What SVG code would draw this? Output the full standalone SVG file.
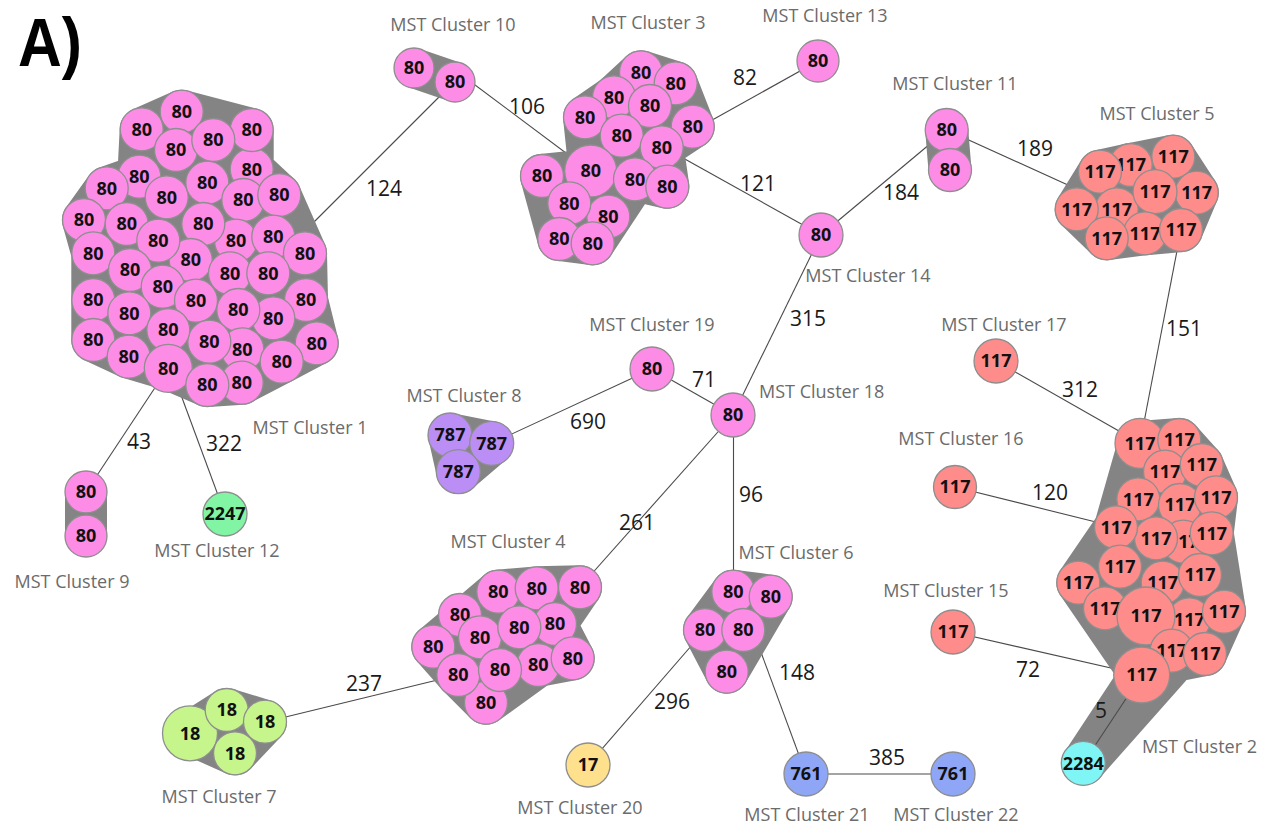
<svg xmlns="http://www.w3.org/2000/svg" width="1273" height="826" viewBox="0 0 1273 826">
<style>
.e{stroke:#4a4a4a;stroke-width:1.1;fill:none}
.h{fill:#848484;stroke:#848484;stroke-width:44;stroke-linejoin:round;stroke-linecap:round}
circle{stroke:#8e8e8e;stroke-width:1.3}
.pk{fill:#fd8ce6}
.sa{fill:#fd8c8a}
.t{font-family:"Open Sans","DejaVu Sans",sans-serif;font-weight:700;font-size:18px;text-anchor:middle;fill:#111}
.cl{font-family:"Open Sans","DejaVu Sans",sans-serif;font-size:18px;fill:#6b6b6b;text-anchor:middle}
.el{font-family:"Open Sans","DejaVu Sans",sans-serif;font-size:21px;fill:#1a1a1a;text-anchor:middle}
</style>
<rect width="1273" height="826" fill="#fff"/>
<text x="50" y="66" font-family="Liberation Sans, Arial, sans-serif" font-weight="700" font-size="68" textLength="64" lengthAdjust="spacingAndGlyphs" text-anchor="middle" fill="#000">A)</text>

<g id="connectors">
<line class="e" x1="290" y1="246" x2="455" y2="81"/>
<line class="e" x1="455" y1="70" x2="590" y2="171"/>
<line class="e" x1="680" y1="138" x2="818" y2="61"/>
<line class="e" x1="683" y1="158" x2="821" y2="235"/>
<line class="e" x1="821" y1="235" x2="946.7" y2="130"/>
<line class="e" x1="946.7" y1="130" x2="1076.7" y2="189"/>
<line class="e" x1="1181" y1="230" x2="1140" y2="443"/>
<line class="e" x1="821" y1="235" x2="733" y2="415"/>
<line class="e" x1="652" y1="369" x2="733" y2="415"/>
<line class="e" x1="491.7" y1="443.3" x2="652" y2="369"/>
<line class="e" x1="733" y1="415" x2="580" y2="587"/>
<line class="e" x1="733.5" y1="415" x2="733.5" y2="592"/>
<line class="e" x1="458" y1="675" x2="265" y2="722"/>
<line class="e" x1="705" y1="630" x2="588" y2="765"/>
<line class="e" x1="752" y1="628" x2="806" y2="774"/>
<line class="e" x1="806" y1="774" x2="953" y2="774"/>
<line class="e" x1="996" y1="361" x2="1140" y2="443"/>
<line class="e" x1="955" y1="487" x2="1116" y2="527"/>
<line class="e" x1="953" y1="632" x2="1141.7" y2="675"/>
<line class="e" x1="168" y1="368" x2="86" y2="492"/>
<line class="e" x1="171" y1="368" x2="225" y2="514"/>
</g>

<g id="edge-labels">
<text class="el" x="384" y="196">124</text>
<text class="el" x="527" y="114">106</text>
<text class="el" x="745" y="85">82</text>
<text class="el" x="758" y="191">121</text>
<text class="el" x="901" y="200">184</text>
<text class="el" x="1035" y="156">189</text>
<text class="el" x="1184" y="336">151</text>
<text class="el" x="808" y="326">315</text>
<text class="el" x="704" y="387">71</text>
<text class="el" x="588" y="429">690</text>
<text class="el" x="637" y="530">261</text>
<text class="el" x="751" y="502">96</text>
<text class="el" x="364" y="691">237</text>
<text class="el" x="672" y="709">296</text>
<text class="el" x="797" y="680">148</text>
<text class="el" x="887" y="765">385</text>
<text class="el" x="1080" y="397">312</text>
<text class="el" x="1050" y="500">120</text>
<text class="el" x="1028" y="677">72</text>
<text class="el" x="139" y="449">43</text>
<text class="el" x="224" y="451">322</text>
</g>

<g id="cluster1">
<path class="h" d="M181.7,111.7 L251.7,130 L251.7,169.3 L279.3,195 L305,253.3 L306,300 L316.7,343.3 L281.7,361.7 L241.7,382.7 L207.3,385 L168.3,368.3 L128.7,356.7 L93.3,340 L93.3,253.3 L84,220 L106.7,188.3 L139.3,176.7 L141.7,129.3 Z"/>
<circle class="pk" cx="181.7" cy="111.7" r="21.5"/><text class="t" x="181.7" y="118">80</text>
<circle class="pk" cx="141.7" cy="129.3" r="21.5"/><text class="t" x="141.7" y="135.6">80</text>
<circle class="pk" cx="251.7" cy="169.3" r="21.5"/><text class="t" x="251.7" y="175.6">80</text>
<circle class="pk" cx="251.7" cy="130" r="21.5"/><text class="t" x="251.7" y="136.3">80</text>
<circle class="pk" cx="176" cy="150" r="21.5"/><text class="t" x="176" y="156.3">80</text>
<circle class="pk" cx="213.3" cy="140" r="21.5"/><text class="t" x="213.3" y="146.3">80</text>
<circle class="pk" cx="139.3" cy="176.7" r="21.5"/><text class="t" x="139.3" y="183">80</text>
<circle class="pk" cx="106.7" cy="188.3" r="21.5"/><text class="t" x="106.7" y="194.6">80</text>
<circle class="pk" cx="166.7" cy="197.3" r="21.5"/><text class="t" x="166.7" y="203.6">80</text>
<circle class="pk" cx="207.3" cy="182.7" r="21.5"/><text class="t" x="207.3" y="189">80</text>
<circle class="pk" cx="243.3" cy="200" r="21.5"/><text class="t" x="243.3" y="206.3">80</text>
<circle class="pk" cx="279.3" cy="195" r="21.5"/><text class="t" x="279.3" y="201.3">80</text>
<circle class="pk" cx="84" cy="220" r="21.5"/><text class="t" x="84" y="226.3">80</text>
<circle class="pk" cx="126.7" cy="224" r="21.5"/><text class="t" x="126.7" y="230.3">80</text>
<circle class="pk" cx="236" cy="240.7" r="21.5"/><text class="t" x="236" y="247">80</text>
<circle class="pk" cx="273.3" cy="236.7" r="21.5"/><text class="t" x="273.3" y="243">80</text>
<circle class="pk" cx="203.3" cy="224" r="21.5"/><text class="t" x="203.3" y="230.3">80</text>
<circle class="pk" cx="93.3" cy="253.3" r="21.5"/><text class="t" x="93.3" y="259.6">80</text>
<circle class="pk" cx="190.7" cy="260" r="21.5"/><text class="t" x="190.7" y="266.3">80</text>
<circle class="pk" cx="158.3" cy="240.7" r="21.5"/><text class="t" x="158.3" y="247">80</text>
<circle class="pk" cx="305" cy="253.3" r="21.5"/><text class="t" x="305" y="259.6">80</text>
<circle class="pk" cx="130" cy="270" r="21.5"/><text class="t" x="130" y="276.3">80</text>
<circle class="pk" cx="230" cy="273.3" r="21.5"/><text class="t" x="230" y="279.6">80</text>
<circle class="pk" cx="268.3" cy="273.3" r="21.5"/><text class="t" x="268.3" y="279.6">80</text>
<circle class="pk" cx="162.7" cy="286.7" r="21.5"/><text class="t" x="162.7" y="293">80</text>
<circle class="pk" cx="93.3" cy="300" r="21.5"/><text class="t" x="93.3" y="306.3">80</text>
<circle class="pk" cx="196" cy="300.7" r="21.5"/><text class="t" x="196" y="307">80</text>
<circle class="pk" cx="306" cy="300" r="21.5"/><text class="t" x="306" y="306.3">80</text>
<circle class="pk" cx="129.3" cy="313.3" r="21.5"/><text class="t" x="129.3" y="319.6">80</text>
<circle class="pk" cx="273.3" cy="318.3" r="21.5"/><text class="t" x="273.3" y="324.6">80</text>
<circle class="pk" cx="238.3" cy="310" r="21.5"/><text class="t" x="238.3" y="316.3">80</text>
<circle class="pk" cx="93.3" cy="340" r="21.5"/><text class="t" x="93.3" y="346.3">80</text>
<circle class="pk" cx="242.3" cy="349.3" r="21.5"/><text class="t" x="242.3" y="355.6">80</text>
<circle class="pk" cx="209.3" cy="341.7" r="21.5"/><text class="t" x="209.3" y="348">80</text>
<circle class="pk" cx="168.3" cy="330" r="21.5"/><text class="t" x="168.3" y="336.3">80</text>
<circle class="pk" cx="316.7" cy="343.3" r="21.5"/><text class="t" x="316.7" y="349.6">80</text>
<circle class="pk" cx="128.7" cy="356.7" r="21.5"/><text class="t" x="128.7" y="363">80</text>
<circle class="pk" cx="281.7" cy="361.7" r="21.5"/><text class="t" x="281.7" y="368">80</text>
<circle class="pk" cx="168.3" cy="368.3" r="24"/><text class="t" x="168.3" y="374.6">80</text>
<circle class="pk" cx="241.7" cy="382.7" r="21.5"/><text class="t" x="241.7" y="389">80</text>
<circle class="pk" cx="207.3" cy="385" r="21.5"/><text class="t" x="207.3" y="391.3">80</text>
<text class="cl" x="310" y="434">MST Cluster 1</text>
</g>

<g id="cluster9">
<line class="h" x1="86" y1="492" x2="86" y2="536" style="stroke-width:42"/>
<circle class="pk" cx="86" cy="492" r="21"/><text class="t" x="86" y="498.3">80</text>
<circle class="pk" cx="86" cy="536" r="21"/><text class="t" x="86" y="542.3">80</text>
<text class="cl" x="72" y="588">MST Cluster 9</text>
</g>

<g id="cluster12">
<circle cx="225" cy="514" r="22" fill="#82f5a4"/><text class="t" x="225" y="520.3">2247</text>
<text class="cl" x="217" y="557">MST Cluster 12</text>
</g>

<g id="cluster10">
<line class="h" x1="414" y1="68" x2="455" y2="82" style="stroke-width:40"/>
<circle class="pk" cx="414" cy="68" r="20"/><text class="t" x="414" y="74.3">80</text>
<circle class="pk" cx="455" cy="82" r="20"/><text class="t" x="455" y="88.3">80</text>
<text class="cl" x="453" y="31">MST Cluster 10</text>
</g>

<g id="cluster3">
<path class="h" d="M641,72.3 L675.7,83.3 L692.7,126.7 L661.7,147.3 L667.3,186.7 L635,179.3 L592.7,243.3 L559.3,239 L542,176 L590.7,171 L585,117.3 L614,97.3 Z"/>
<circle class="pk" cx="641" cy="72.3" r="21.5"/><text class="t" x="641" y="78.6">80</text>
<circle class="pk" cx="675.7" cy="83.3" r="21.5"/><text class="t" x="675.7" y="89.6">80</text>
<circle class="pk" cx="614" cy="97.3" r="21.5"/><text class="t" x="614" y="103.6">80</text>
<circle class="pk" cx="650" cy="106" r="21.5"/><text class="t" x="650" y="112.3">80</text>
<circle class="pk" cx="585" cy="117.3" r="21.5"/><text class="t" x="585" y="123.6">80</text>
<circle class="pk" cx="692.7" cy="126.7" r="21.5"/><text class="t" x="692.7" y="133">80</text>
<circle class="pk" cx="621.7" cy="135.7" r="21.5"/><text class="t" x="621.7" y="142">80</text>
<circle class="pk" cx="661.7" cy="147.3" r="21.5"/><text class="t" x="661.7" y="153.6">80</text>
<circle class="pk" cx="608.3" cy="216.7" r="21.5"/><text class="t" x="608.3" y="223">80</text>
<circle class="pk" cx="590.7" cy="171" r="26"/><text class="t" x="590.7" y="177.3">80</text>
<circle class="pk" cx="542" cy="176" r="21.5"/><text class="t" x="542" y="182.3">80</text>
<circle class="pk" cx="635" cy="179.3" r="21.5"/><text class="t" x="635" y="185.6">80</text>
<circle class="pk" cx="667.3" cy="186.7" r="21.5"/><text class="t" x="667.3" y="193">80</text>
<circle class="pk" cx="569.3" cy="203.3" r="21.5"/><text class="t" x="569.3" y="209.6">80</text>
<circle class="pk" cx="559.3" cy="239" r="21.5"/><text class="t" x="559.3" y="245.3">80</text>
<circle class="pk" cx="592.7" cy="243.3" r="21.5"/><text class="t" x="592.7" y="249.6">80</text>
<text class="cl" x="648" y="29">MST Cluster 3</text>
</g>

<g id="cluster13">
<circle class="pk" cx="818" cy="61" r="21"/><text class="t" x="818" y="67.3">80</text>
<text class="cl" x="825" y="22">MST Cluster 13</text>
</g>

<g id="cluster11">
<line class="h" x1="946.7" y1="130" x2="950" y2="170" style="stroke-width:43"/>
<circle class="pk" cx="946.7" cy="130" r="21.5"/><text class="t" x="946.7" y="136.3">80</text>
<circle class="pk" cx="950" cy="170" r="21.5"/><text class="t" x="950" y="176.3">80</text>
<text class="cl" x="955" y="90">MST Cluster 11</text>
</g>

<g id="cluster14">
<circle class="pk" cx="821" cy="235" r="22"/><text class="t" x="821" y="241.3">80</text>
<text class="cl" x="868" y="282">MST Cluster 14</text>
</g>

<g id="cluster5">
<path class="h" d="M1100,171.7 L1130.7,165 L1173.3,156.7 L1196.7,192.7 L1181,230 L1145,233.3 L1106.7,238.3 L1076.7,209.3 Z"/>
<circle class="sa" cx="1173.3" cy="156.7" r="21.5"/><text class="t" x="1173.3" y="163">117</text>
<circle class="sa" cx="1130.7" cy="165" r="21.5"/><text class="t" x="1130.7" y="171.3">117</text>
<circle class="sa" cx="1100" cy="171.7" r="21.5"/><text class="t" x="1100" y="178">117</text>
<circle class="sa" cx="1196.7" cy="192.7" r="21.5"/><text class="t" x="1196.7" y="199">117</text>
<circle class="sa" cx="1116.7" cy="209.3" r="21.5"/><text class="t" x="1116.7" y="215.6">117</text>
<circle class="sa" cx="1076.7" cy="209.3" r="21.5"/><text class="t" x="1076.7" y="215.6">117</text>
<circle class="sa" cx="1155" cy="191.7" r="22"/><text class="t" x="1155" y="198">117</text>
<circle class="sa" cx="1145" cy="233.3" r="21.5"/><text class="t" x="1145" y="239.6">117</text>
<circle class="sa" cx="1106.7" cy="238.3" r="21.5"/><text class="t" x="1106.7" y="244.6">117</text>
<circle class="sa" cx="1181" cy="230" r="21.5"/><text class="t" x="1181" y="236.3">117</text>
<text class="cl" x="1157" y="120">MST Cluster 5</text>
</g>

<g id="cluster19">
<circle class="pk" cx="652" cy="369" r="22"/><text class="t" x="652" y="375.3">80</text>
<text class="cl" x="652" y="331">MST Cluster 19</text>
</g>

<g id="cluster18">
<circle class="pk" cx="733" cy="415" r="22"/><text class="t" x="733" y="421.3">80</text>
<text class="cl" x="759" y="398" style="text-anchor:start">MST Cluster 18</text>
</g>

<g id="cluster8">
<path class="h" d="M450,435 L491.7,443.3 L458.3,471.7 Z"/>
<circle cx="450" cy="435" r="22" fill="#bb8ef5"/><text class="t" x="450" y="441.3">787</text>
<circle cx="491.7" cy="443.3" r="22" fill="#bb8ef5"/><text class="t" x="491.7" y="449.6">787</text>
<circle cx="458.3" cy="471.7" r="22" fill="#bb8ef5"/><text class="t" x="458.3" y="478">787</text>
<text class="cl" x="464" y="402">MST Cluster 8</text>
</g>

<g id="cluster17">
<circle class="sa" cx="996" cy="361" r="22"/><text class="t" x="996" y="367.3">117</text>
<text class="cl" x="1004" y="331">MST Cluster 17</text>
</g>

<g id="cluster16">
<circle class="sa" cx="955" cy="487" r="21.5"/><text class="t" x="955" y="493.3">117</text>
<text class="cl" x="961" y="445">MST Cluster 16</text>
</g>

<g id="cluster15">
<circle class="sa" cx="953" cy="632" r="22"/><text class="t" x="953" y="638.3">117</text>
<text class="cl" x="946" y="597">MST Cluster 15</text>
</g>

<g id="cluster2">
<path class="h" d="M1140,443 L1179.3,440 L1201.7,465 L1216,497.3 L1211.7,533.3 L1224,611.7 L1205,654 L1175,660 L1083.3,763.3 L1141.7,675 L1078.3,582.7 L1116,527.3 Z"/>
<line class="e" x1="1141.7" y1="675" x2="1083.3" y2="763.3"/>
<circle class="sa" cx="1140" cy="443.3" r="25"/><text class="t" x="1140" y="449.6">117</text>
<circle class="sa" cx="1179.3" cy="440" r="21.5"/><text class="t" x="1179.3" y="446.3">117</text>
<circle class="sa" cx="1165" cy="471.7" r="21.5"/><text class="t" x="1165" y="478">117</text>
<circle class="sa" cx="1201.7" cy="465" r="21.5"/><text class="t" x="1201.7" y="471.3">117</text>
<circle class="sa" cx="1138.3" cy="499.3" r="21.5"/><text class="t" x="1138.3" y="505.6">117</text>
<circle class="sa" cx="1180" cy="505" r="21.5"/><text class="t" x="1180" y="511.3">117</text>
<circle class="sa" cx="1216" cy="497.3" r="21.5"/><text class="t" x="1216" y="503.6">117</text>
<circle class="sa" cx="1183.3" cy="541.7" r="21.5"/><text class="t" x="1183.3" y="548">117</text>
<circle class="sa" cx="1156" cy="538.3" r="21.5"/><text class="t" x="1156" y="544.6">117</text>
<circle class="sa" cx="1211.7" cy="533.3" r="21.5"/><text class="t" x="1211.7" y="539.6">117</text>
<circle class="sa" cx="1116" cy="527.3" r="21.5"/><text class="t" x="1116" y="533.6">117</text>
<circle class="sa" cx="1162.7" cy="582.7" r="21.5"/><text class="t" x="1162.7" y="589">117</text>
<circle class="sa" cx="1120" cy="566.7" r="21.5"/><text class="t" x="1120" y="573">117</text>
<circle class="sa" cx="1200" cy="575" r="21.5"/><text class="t" x="1200" y="581.3">117</text>
<circle class="sa" cx="1078.3" cy="582.7" r="21.5"/><text class="t" x="1078.3" y="589">117</text>
<circle class="sa" cx="1105" cy="608.3" r="21.5"/><text class="t" x="1105" y="614.6">117</text>
<circle class="sa" cx="1189.3" cy="619.3" r="21.5"/><text class="t" x="1189.3" y="625.6">117</text>
<circle class="sa" cx="1224" cy="611.7" r="21.5"/><text class="t" x="1224" y="618">117</text>
<circle class="sa" cx="1146" cy="616" r="29"/><text class="t" x="1146" y="622.3">117</text>
<circle class="sa" cx="1171.7" cy="650.7" r="21.5"/><text class="t" x="1171.7" y="657">117</text>
<circle class="sa" cx="1205" cy="654" r="21.5"/><text class="t" x="1205" y="660.3">117</text>
<circle class="sa" cx="1141.7" cy="675" r="28"/><text class="t" x="1141.7" y="681.3">117</text>
<circle cx="1083.3" cy="763.3" r="22" fill="#80f5f5"/><text class="t" x="1083.3" y="769.6">2284</text>
<text class="el" x="1101" y="718">5</text>
<text class="cl" x="1142" y="753" style="text-anchor:start">MST Cluster 2</text>
</g>

<g id="cluster4">
<path class="h" d="M498.3,591.7 L536.7,588.3 L580,587.3 L555,624 L572.7,658.3 L538.3,665 L486,702.7 L458.3,675 L433.3,646.7 Z"/>
<circle class="pk" cx="498.3" cy="591.7" r="21.5"/><text class="t" x="498.3" y="598">80</text>
<circle class="pk" cx="536.7" cy="588.3" r="21.5"/><text class="t" x="536.7" y="594.6">80</text>
<circle class="pk" cx="580" cy="587.3" r="21.5"/><text class="t" x="580" y="593.6">80</text>
<circle class="pk" cx="460" cy="615" r="21.5"/><text class="t" x="460" y="621.3">80</text>
<circle class="pk" cx="555" cy="624" r="21.5"/><text class="t" x="555" y="630.3">80</text>
<circle class="pk" cx="480" cy="637.3" r="21.5"/><text class="t" x="480" y="643.6">80</text>
<circle class="pk" cx="519.3" cy="627.3" r="21.5"/><text class="t" x="519.3" y="633.6">80</text>
<circle class="pk" cx="433.3" cy="646.7" r="21.5"/><text class="t" x="433.3" y="653">80</text>
<circle class="pk" cx="538.3" cy="665" r="21.5"/><text class="t" x="538.3" y="671.3">80</text>
<circle class="pk" cx="572.7" cy="658.3" r="21.5"/><text class="t" x="572.7" y="664.6">80</text>
<circle class="pk" cx="486" cy="702.7" r="21.5"/><text class="t" x="486" y="709">80</text>
<circle class="pk" cx="458.3" cy="675" r="21.5"/><text class="t" x="458.3" y="681.3">80</text>
<circle class="pk" cx="500" cy="670" r="21.5"/><text class="t" x="500" y="676.3">80</text>
<text class="cl" x="508" y="548">MST Cluster 4</text>
</g>

<g id="cluster6">
<path class="h" d="M733.3,591.7 L770.7,596.7 L726.7,671.7 L705,630 Z"/>
<circle class="pk" cx="733.3" cy="591.7" r="21.5"/><text class="t" x="733.3" y="598">80</text>
<circle class="pk" cx="770.7" cy="596.7" r="21.5"/><text class="t" x="770.7" y="603">80</text>
<circle class="pk" cx="705" cy="630" r="21.5"/><text class="t" x="705" y="636.3">80</text>
<circle class="pk" cx="743.3" cy="630" r="21.5"/><text class="t" x="743.3" y="636.3">80</text>
<circle class="pk" cx="726.7" cy="671.7" r="21.5"/><text class="t" x="726.7" y="678">80</text>
<text class="cl" x="796" y="559">MST Cluster 6</text>
</g>

<g id="cluster7">
<path class="h" d="M190,733.3 L226.7,710 L265,721.7 L235,753.3 Z"/>
<circle cx="190" cy="733.3" r="27.5" fill="#c6f58c"/><text class="t" x="190" y="739.6">18</text>
<circle cx="226.7" cy="710" r="21.5" fill="#c6f58c"/><text class="t" x="226.7" y="716.3">18</text>
<circle cx="265" cy="721.7" r="21.5" fill="#c6f58c"/><text class="t" x="265" y="728">18</text>
<circle cx="235" cy="753.3" r="21.5" fill="#c6f58c"/><text class="t" x="235" y="759.6">18</text>
<text class="cl" x="219" y="803">MST Cluster 7</text>
</g>

<g id="cluster20">
<circle cx="588" cy="765" r="22" fill="#ffe08c"/><text class="t" x="588" y="771.3">17</text>
<text class="cl" x="580" y="814">MST Cluster 20</text>
</g>

<g id="cluster21">
<circle cx="806" cy="774" r="22" fill="#8ea6f5"/><text class="t" x="806" y="780.3">761</text>
<text class="cl" x="807" y="821">MST Cluster 21</text>
</g>

<g id="cluster22">
<circle cx="953" cy="774" r="22" fill="#8ea6f5"/><text class="t" x="953" y="780.3">761</text>
<text class="cl" x="956" y="821">MST Cluster 22</text>
</g>
</svg>
